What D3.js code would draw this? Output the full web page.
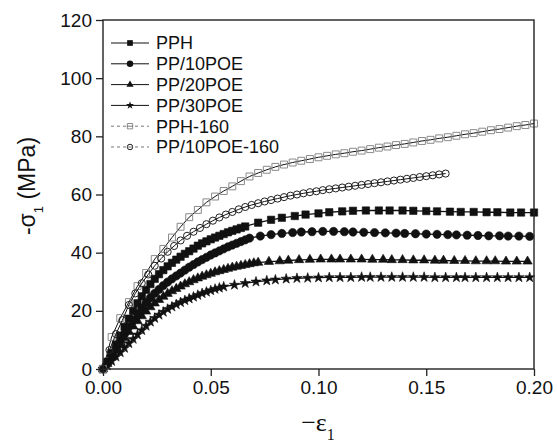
<!DOCTYPE html>
<html>
<head>
<meta charset="utf-8">
<script src="https://cdn.jsdelivr.net/npm/d3@7"></script>
<style>
  body { margin: 0; background: #fff; }
  svg { font-family: "Liberation Sans", Arial, sans-serif; }
</style>
</head>
<body>
<svg id="chart" width="557" height="441"></svg>
<script>
// ---- data ----
var xTicks = [0, 0.05, 0.10, 0.15, 0.20];
var yTicks = [0, 20, 40, 60, 80, 100, 120];
var seriesNames = ["PPH", "PP/10POE", "PP/20POE", "PP/30POE", "PPH-160", "PP/10POE-160"];

var pphStrain = [0, .002, .004, .006, .008, .010, .012, .014, .016, .018, .020, .022, .024, .026, .028, .030, .032, .034, .036, .038, .040, .042, .044, .046, .048, .050, .052, .054, .056, .058, .060, .062, .064, .066,
  .072, .078, .083, .089, .094, .100, .105, .111, .116, .122, .128, .133, .139, .144, .150, .155, .161, .166, .172, .178, .183, .189, .194, .200];
var pphStress = [0, 2.5, 5.5, 8.5, 11.5, 14.5, 17.3, 20, 22.6, 25, 27.2, 29.2, 31, 32.6, 34, 35.3, 36.5, 37.6, 38.6, 39.6, 40.5, 41.4, 42.4, 43.2, 43.9, 44.6, 45.2, 45.8, 46.4, 47, 47.5, 48, 48.5, 49,
  50.3, 51.3, 52, 52.6, 53.1, 53.5, 53.9, 54.2, 54.4, 54.5, 54.5, 54.5, 54.5, 54.4, 54.3, 54.2, 54.1, 54, 54, 53.9, 53.9, 53.8, 53.8, 53.8];

var pp10Strain = [0, .002, .004, .006, .008, .010, .012, .014, .016, .018, .020, .022, .024, .026, .028, .030, .032, .034, .036, .038, .040, .042, .044, .046, .048, .050, .052, .054, .056, .058, .060, .062, .064, .066, .068,
  .073, .078, .083, .088, .092, .097, .102, .107, .112, .116, .121, .126, .131, .136, .140, .145, .150, .155, .160, .164, .169, .174, .179, .184, .188, .193, .198];
var pp10Stress = [0, 2, 4.5, 7, 9.5, 12, 14.5, 16.8, 19, 21, 22.8, 24.5, 26, 27.4, 28.7, 29.9, 31, 32, 33, 34, 35, 35.9, 36.8, 37.6, 38.4, 39.2, 39.9, 40.6, 41.3, 42, 42.6, 43.2, 43.8, 44.4, 45,
  45.7, 46.2, 46.6, 46.9, 47.1, 47.2, 47.3, 47.3, 47.2, 47.1, 47, 46.9, 46.8, 46.7, 46.6, 46.5, 46.4, 46.3, 46.2, 46.1, 46, 45.9, 45.8, 45.8, 45.7, 45.7, 45.6];

var pp20Strain = [0, .002, .004, .006, .008, .010, .012, .014, .016, .018, .020, .022, .024, .026, .028, .030, .032, .034, .036, .038, .040, .042, .044, .046, .048, .050, .052, .054, .056, .058, .060, .062, .064, .066, .068, .070, .072,
  .077, .082, .086, .091, .096, .101, .106, .110, .115, .120, .125, .130, .134, .139, .144, .149, .154, .158, .163, .168, .173, .178, .182, .187, .192, .197];
var pp20Stress = [0, 1.8, 4, 6.3, 8.5, 10.7, 12.8, 14.7, 16.5, 18.2, 19.8, 21.3, 22.6, 23.8, 24.9, 25.9, 26.8, 27.6, 28.4, 29.2, 29.9, 30.6, 31.2, 31.8, 32.3, 32.8, 33.3, 33.7, 34.1, 34.5, 34.9, 35.2, 35.5, 35.8, 36.1, 36.4, 36.6,
  36.9, 37.1, 37.3, 37.5, 37.6, 37.7, 37.7, 37.7, 37.7, 37.7, 37.6, 37.6, 37.5, 37.5, 37.4, 37.4, 37.3, 37.3, 37.2, 37.2, 37.1, 37.1, 37.1, 37, 37, 37];

var pp30Strain = [0, .002, .004, .006, .008, .010, .012, .014, .016, .018, .020, .022, .024, .026, .028, .030, .032, .034, .036, .038, .040, .042, .044, .046, .048, .050, .052, .054, .056,
  .061, .066, .071, .076, .080, .085, .090, .095, .100, .105, .110, .115, .120, .124, .129, .134, .139, .144, .149, .154, .159, .164, .168, .173, .178, .183, .188, .193, .198];
var pp30Stress = [0, 1.2, 2.7, 4.2, 5.7, 7.2, 8.8, 10.3, 11.8, 13.3, 14.8, 16.2, 17.5, 18.6, 19.6, 20.6, 21.4, 22.2, 22.9, 23.6, 24.2, 24.8, 25.4, 26, 26.5, 27, 27.5, 27.9, 28.3,
  28.9, 29.5, 30, 30.4, 30.7, 31, 31.2, 31.3, 31.4, 31.5, 31.5, 31.5, 31.6, 31.6, 31.6, 31.6, 31.6, 31.6, 31.6, 31.5, 31.5, 31.5, 31.5, 31.5, 31.5, 31.5, 31.5, 31.5, 31.5];

var pph160Strain = [0, .004, .008, .012, .016, .020, .024, .028, .032, .036, .040, .044, .048, .052, .056, .060, .064, .068, .072, .076, .080, .084, .088, .092, .096, .100,
  .104, .108, .112, .116, .120, .124, .128, .132, .136, .140, .144, .148, .152, .156, .160, .164, .168, .172, .176, .180, .184, .188, .192, .196, .200];
var pph160Stress = [0, 11, 17.5, 23, 28.5, 33, 37.8, 41.3, 45.2, 48.9, 52.2, 54.7, 57.3, 59.3, 61.2, 62.8, 64.6, 66.2, 67.4, 68.5, 69.5, 70.3, 71, 71.6, 72.2, 72.8,
  73.3, 73.8, 74.2, 74.7, 75.1, 75.6, 76.1, 76.5, 77, 77.4, 77.9, 78.4, 78.8, 79.3, 79.7, 80.2, 80.7, 81.1, 81.6, 82.1, 82.5, 83, 83.5, 83.9, 84.4];

var pp10160Strain = [0, .003, .006, .009, .012, .015, .018, .021, .024, .027, .030, .033, .036, .039, .042, .045, .048, .051, .054, .057, .060, .063, .066, .069, .072, .075, .078,
  .081, .084, .087, .090, .093, .096, .099, .102, .105, .108, .111, .114, .117, .120, .123, .126, .129, .132, .135, .138, .141, .144, .147, .150, .153, .156, .159];
var pp10160Stress = [0, 6.5, 12, 16.8, 22, 26, 29.5, 32.5, 35.5, 38, 40.3, 42.3, 44.2, 45.8, 47.2, 48.5, 49.8, 51, 52.1, 53.1, 54, 54.9, 55.7, 56.4, 57, 57.6, 58.1,
  58.6, 59.1, 59.6, 60, 60.4, 60.8, 61.1, 61.5, 61.8, 62.1, 62.4, 62.7, 63, 63.3, 63.6, 63.9, 64.2, 64.5, 64.8, 65.1, 65.4, 65.7, 66, 66.3, 66.6, 66.9, 67.2];

// ---- chart ----
var svg = d3.select("#chart"),
    margin = {top: 20, right: 23, bottom: 72, left: 103},
    width = +svg.attr("width") - margin.left - margin.right,
    height = +svg.attr("height") - margin.top - margin.bottom;

var x = d3.scaleLinear().domain([0, 0.20]).range([0, width]),
    y = d3.scaleLinear().domain([0, 120]).range([height, 0]);

var g = svg.append("g")
    .attr("transform", "translate(" + margin.left + "," + margin.top + ")");

var series = [
  {name: seriesNames[0], xs: pphStrain, ys: pphStress, sym: d3.symbolSquare, size: 54, fill: "#111", stroke: "none"},
  {name: seriesNames[1], xs: pp10Strain, ys: pp10Stress, sym: d3.symbolCircle, size: 54, fill: "#111", stroke: "none"},
  {name: seriesNames[2], xs: pp20Strain, ys: pp20Stress, sym: d3.symbolTriangle, size: 38, fill: "#111", stroke: "none"},
  {name: seriesNames[3], xs: pp30Strain, ys: pp30Stress, sym: d3.symbolStar, size: 32, fill: "#111", stroke: "none"},
  {name: seriesNames[4], xs: pph160Strain, ys: pph160Stress, sym: d3.symbolSquare, size: 48, fill: "none", stroke: "#8a8a8a", open: true},
  {name: seriesNames[5], xs: pp10160Strain, ys: pp10160Stress, sym: d3.symbolCircle, size: 40, fill: "none", stroke: "#222", open: true}
];

var line = d3.line()
    .x(function (d) { return x(d[0]); })
    .y(function (d) { return y(d[1]); });

series.forEach(function (s) {
  var pts = s.xs.map(function (v, i) { return [v, s.ys[i]]; });
  g.append("path")
      .datum(pts)
      .attr("fill", "none")
      .attr("stroke", "#111")
      .attr("stroke-width", s.open ? 1 : 1.3)
      .attr("d", line);
  g.selectAll(null)
      .data(pts)
      .enter().append("path")
      .attr("transform", function (d) { return "translate(" + x(d[0]) + "," + y(d[1]) + ")"; })
      .attr("d", d3.symbol().type(s.sym).size(s.size))
      .attr("fill", s.fill)
      .attr("stroke", s.open ? s.stroke : "#111")
      .attr("stroke-width", s.open ? 1 : 0.6);
});

// axes
g.append("g")
    .attr("transform", "translate(0," + height + ")")
    .call(d3.axisBottom(x).tickValues(xTicks).tickFormat(d3.format(".2f")).tickSize(7).tickPadding(5))
    .call(function (a) { a.select(".domain").remove(); })
    .selectAll("text")
    .style("font-size", "19px")
    .attr("fill", "#111");

g.append("g")
    .call(d3.axisLeft(y).tickValues(yTicks).tickSize(7).tickPadding(4))
    .call(function (a) { a.select(".domain").remove(); })
    .selectAll("text")
    .style("font-size", "19px")
    .attr("fill", "#111");

g.selectAll(".tick line").attr("stroke", "#222").attr("stroke-width", 1.3);

// frame
g.append("rect")
    .attr("width", width)
    .attr("height", height)
    .attr("fill", "none")
    .attr("stroke", "#222")
    .attr("stroke-width", 1.4);

// legend
var legend = g.append("g").attr("transform", "translate(8,23)");
series.forEach(function (s, i) {
  var row = legend.append("g").attr("transform", "translate(0," + (i * 20.8) + ")");
  row.append("line")
      .attr("x1", 0).attr("x2", 38)
      .attr("stroke", s.open ? "#777" : "#111")
      .attr("stroke-width", 1)
      .attr("stroke-dasharray", s.open ? "3,3" : null);
  row.append("path")
      .attr("transform", "translate(19,0)")
      .attr("d", d3.symbol().type(s.sym).size(s.size * 0.6))
      .attr("fill", s.open ? "#fff" : s.fill)
      .attr("stroke", s.open ? s.stroke : "none");
  if (s.open) {
    row.append("line").attr("x1", 16).attr("x2", 22)
        .attr("stroke", "#777").attr("stroke-width", 1);
  }
  row.append("text")
      .attr("x", 45)
      .attr("dy", "0.35em")
      .style("font-size", "18px")
      .attr("fill", "#111")
      .text(s.name);
});

// y label
var yl = svg.append("text")
    .attr("transform", "translate(35,186) rotate(-90)")
    .attr("text-anchor", "middle")
    .style("font-size", "23px")
    .attr("fill", "#111");
yl.append("tspan").text("-σ");
yl.append("tspan").attr("baseline-shift", "sub").style("font-size", "13px").text("1");
yl.append("tspan").text(" (MPa)");

// x label
var xl = svg.append("text")
    .attr("x", 318)
    .attr("y", 431)
    .attr("text-anchor", "middle")
    .style("font-family", "'Liberation Serif', serif")
    .style("font-size", "26px")
    .attr("fill", "#111");
xl.append("tspan").text("−ε");
xl.append("tspan").attr("baseline-shift", "sub").style("font-size", "16px").text("1");
</script>
</body>
</html>
